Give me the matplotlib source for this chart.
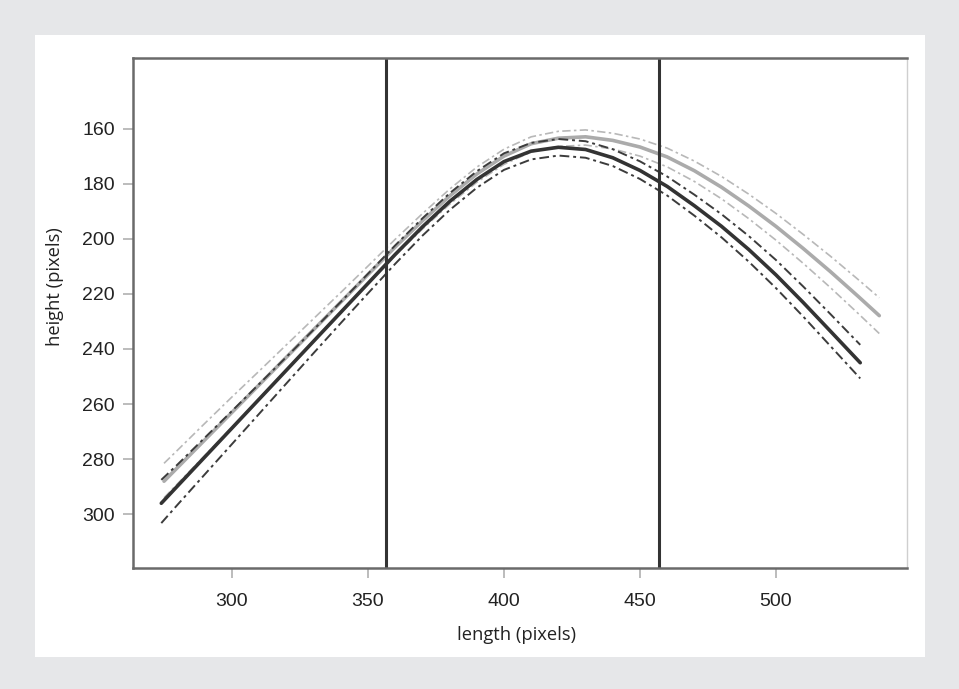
import matplotlib
matplotlib.use("Agg")
import matplotlib.pyplot as plt
from matplotlib.patches import Rectangle

# dark model (black) : fit + confidence bounds
dark_x = [274, 280, 290, 300, 310, 320, 330, 340, 350, 360, 370, 380, 390, 400,
          410, 420, 430, 440, 450, 460, 470, 480, 490, 500, 510, 520, 531]
dark_fit = [296, 289.7, 279.2, 268.7, 258.2, 247.7, 237.2, 226.7, 216.2, 205.7, 195.7, 186.5, 178.5, 172,
            168.2, 166.8, 167.6, 170.6, 175.2, 181, 188, 195.5, 203.9, 213.1, 223.1, 233.5, 245]
dark_up = [287.5, 281.9, 272.2, 262.5, 252.7, 242.9, 233.0, 222.9, 212.7, 202.4, 192.6, 183.5, 175.5, 169,
           165.2, 163.8, 164.6, 167.5, 171.9, 177.4, 184, 191.1, 199, 207.7, 217.3, 227.3, 238.5]
dark_lo = [303.2, 296.5, 285.5, 274.5, 263.5, 252.5, 241.5, 230.6, 219.8, 209.1, 198.9, 189.6, 181.5, 175,
           171.2, 169.8, 170.6, 173.6, 178.3, 184.3, 191.6, 199.5, 208.3, 217.9, 228.2, 238.9, 250.7]

# light model (grey) : fit + confidence bounds
light_x = [275, 280, 290, 300, 310, 320, 330, 340, 350, 360, 370, 380, 390, 400,
           410, 420, 430, 440, 450, 460, 470, 480, 490, 500, 510, 520, 530, 538]
light_fit = [288, 283, 273, 263, 253, 243, 233, 223, 213, 203, 193.5, 184.5, 176.5, 170,
             165.5, 163.5, 163, 164.3, 166.7, 170.3, 175.3, 181.3, 188.1, 195.5, 203.5, 211.9, 220.7, 227.9]
light_up = [281.5, 276.7, 267, 257.4, 248, 238.5, 229, 219.5, 209.9, 200.2, 190.9, 182, 174, 167.5,
            163, 161, 160.5, 161.7, 163.8, 167.1, 171.8, 177.4, 183.8, 190.8, 198.4, 206.3, 214.6, 221.4]
light_lo = [294, 288.9, 278.7, 268.4, 258, 247.5, 237, 226.5, 216.1, 206, 196.5, 187.5, 179.5, 173,
            168.5, 166.5, 166, 167.4, 170, 173.9, 179.2, 185.5, 192.7, 200.5, 208.9, 217.7, 226.9, 234.4]

vlines = [356.8, 457.1]

fig = plt.figure(figsize=(9.59, 6.89), dpi=100)
fig.patch.set_facecolor("#e6e7e9")
fig.patches.append(Rectangle((0.0365, 0.0464), 0.928, 0.9028, transform=fig.transFigure,
                             facecolor="white", edgecolor="none", zorder=-10))

ax = fig.add_axes([0.1387, 0.1756, 0.8071, 0.7402])
ax.set_zorder(1)
ax.set_facecolor("white")

dd = (0, (5, 2, 1.5, 2))
ax.plot(light_x, light_up, color="#b8b8b8", lw=1.2, ls=dd)
ax.plot(light_x, light_lo, color="#b8b8b8", lw=1.2, ls=dd)
ax.plot(light_x, light_fit, color="#ababab", lw=2.6, solid_capstyle="round")
ax.plot(dark_x, dark_up, color="#3c3c3c", lw=1.4, ls=dd)
ax.plot(dark_x, dark_lo, color="#3c3c3c", lw=1.4, ls=dd)
ax.plot(dark_x, dark_fit, color="#333333", lw=2.6, solid_capstyle="round")

for v in vlines:
    ax.axvline(v, color="#333333", lw=2.2)

ax.set_xlim(263.6, 548.2)
ax.set_ylim(319.5, 134.4)
ax.set_xticks([300, 350, 400, 450, 500])
ax.set_yticks([160, 180, 200, 220, 240, 260, 280, 300])

for s in ["left", "bottom", "top"]:
    ax.spines[s].set_color("#6a6a6a")
    ax.spines[s].set_linewidth(1.8)
ax.spines["right"].set_color("#cfcfcf")
ax.spines["right"].set_linewidth(1.0)

ax.tick_params(direction="out", length=7, width=1.2, color="#b0b0b0",
               labelsize=14, labelcolor="#222222")
ax.tick_params(axis="x", pad=11)
ax.tick_params(axis="y", pad=6)
for lab in ax.get_xticklabels() + ax.get_yticklabels():
    lab.set_family("Liberation Sans")

ax.set_xlabel("length (pixels)", fontsize=13.2, family="Open Sans", color="#222222")
ax.set_ylabel("height (pixels)", fontsize=13.2, family="Open Sans", color="#222222")
ax.xaxis.set_label_coords(0.495, -0.131)
ax.yaxis.set_label_coords(-0.101, 0.551)
ax.xaxis.label.set_va("center")
ax.yaxis.label.set_va("center")

fig.savefig("out.png", dpi=100, facecolor=fig.get_facecolor())
